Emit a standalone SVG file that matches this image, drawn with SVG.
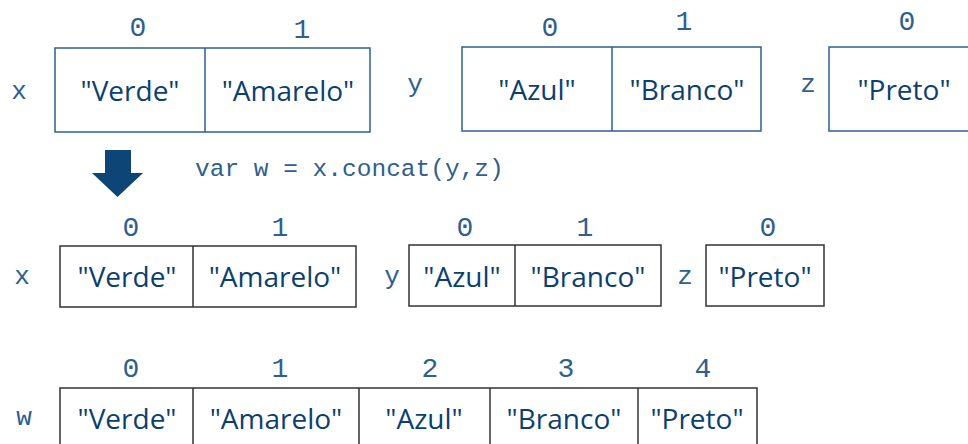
<svg xmlns="http://www.w3.org/2000/svg" width="968" height="444" viewBox="0 0 968 444">
  <style>
    .val { font-family: "Open Sans", "Liberation Sans", sans-serif; font-size: 28px; fill: #0b3f70; text-anchor: middle; }
    .idx { font-family: "Liberation Mono", "DejaVu Sans Mono", monospace; font-size: 28px; fill: #2f5f8f; text-anchor: middle; }
    .name { font-family: "Liberation Mono", "DejaVu Sans Mono", monospace; font-size: 26px; fill: #2f5f8f; text-anchor: middle; }
    .code { font-family: "Liberation Mono", "DejaVu Sans Mono", monospace; font-size: 24.5px; fill: #2f5f8f; }
    .blue { fill: #ffffff; stroke: #2f5f8f; stroke-width: 1.5; }
    .dark { fill: #ffffff; stroke: #333333; stroke-width: 1.5; }
  </style>
  <rect width="968" height="444" fill="#ffffff"/>

  <!-- original arrays -->
  <g id="x-before">
    <text class="name" x="19" y="99">x</text>
    <rect class="blue" x="55" y="48" width="315" height="84"/>
    <line class="blue" x1="205" y1="48" x2="205" y2="132"/>
    <text class="idx" x="138" y="36">0</text>
    <text class="idx" x="302" y="38">1</text>
    <text class="val" x="130" y="101">"Verde"</text>
    <text class="val" x="288" y="101">"Amarelo"</text>
  </g>
  <g id="y-before">
    <text class="name" x="415" y="92">y</text>
    <rect class="blue" x="462" y="47" width="299" height="84"/>
    <line class="blue" x1="612" y1="47" x2="612" y2="131"/>
    <text class="idx" x="550" y="36">0</text>
    <text class="idx" x="684" y="30">1</text>
    <text class="val" x="537" y="100">"Azul"</text>
    <text class="val" x="687" y="100">"Branco"</text>
  </g>
  <g id="z-before">
    <text class="name" x="808" y="92">z</text>
    <rect class="blue" x="829" y="47" width="160" height="84"/>
    <text class="idx" x="907" y="30">0</text>
    <text class="val" x="904" y="100">"Preto"</text>
  </g>

  <!-- operation -->
  <g id="connectors">
    <polygon points="105,150 131,150 131,173 143,173 117.5,197 92,173 105,173" fill="#0d4576"/>
  </g>
  <text class="code" x="195" y="176">var w = x.concat(y,z)</text>

  <!-- arrays after concat -->
  <g id="x-after">
    <text class="name" x="22" y="284">x</text>
    <rect class="dark" x="60" y="246" width="296" height="61"/>
    <line class="dark" x1="193" y1="246" x2="193" y2="307"/>
    <text class="idx" x="131" y="236">0</text>
    <text class="idx" x="280" y="236">1</text>
    <text class="val" x="127" y="287">"Verde"</text>
    <text class="val" x="275" y="287">"Amarelo"</text>
  </g>
  <g id="y-after">
    <text class="name" x="392" y="284">y</text>
    <rect class="dark" x="409" y="245" width="252" height="61"/>
    <line class="dark" x1="515" y1="245" x2="515" y2="306"/>
    <text class="idx" x="465" y="236">0</text>
    <text class="idx" x="585" y="236">1</text>
    <text class="val" x="462" y="287">"Azul"</text>
    <text class="val" x="588" y="287">"Branco"</text>
  </g>
  <g id="z-after">
    <text class="name" x="685" y="284">z</text>
    <rect class="dark" x="706" y="245" width="118" height="61"/>
    <text class="idx" x="768" y="236">0</text>
    <text class="val" x="765" y="287">"Preto"</text>
  </g>

  <g id="w-result">
    <text class="name" x="24" y="425">w</text>
    <rect class="dark" x="60" y="388" width="697" height="80"/>
    <line class="dark" x1="193" y1="388" x2="193" y2="444"/>
    <line class="dark" x1="359" y1="388" x2="359" y2="444"/>
    <line class="dark" x1="490" y1="388" x2="490" y2="444"/>
    <line class="dark" x1="638" y1="388" x2="638" y2="444"/>
    <text class="idx" x="131" y="377">0</text>
    <text class="idx" x="280" y="377">1</text>
    <text class="idx" x="430" y="377">2</text>
    <text class="idx" x="566" y="377">3</text>
    <text class="idx" x="703" y="377">4</text>
    <text class="val" x="127" y="429">"Verde"</text>
    <text class="val" x="276" y="429">"Amarelo"</text>
    <text class="val" x="424" y="429">"Azul"</text>
    <text class="val" x="564" y="429">"Branco"</text>
    <text class="val" x="697" y="429">"Preto"</text>
  </g>
</svg>
